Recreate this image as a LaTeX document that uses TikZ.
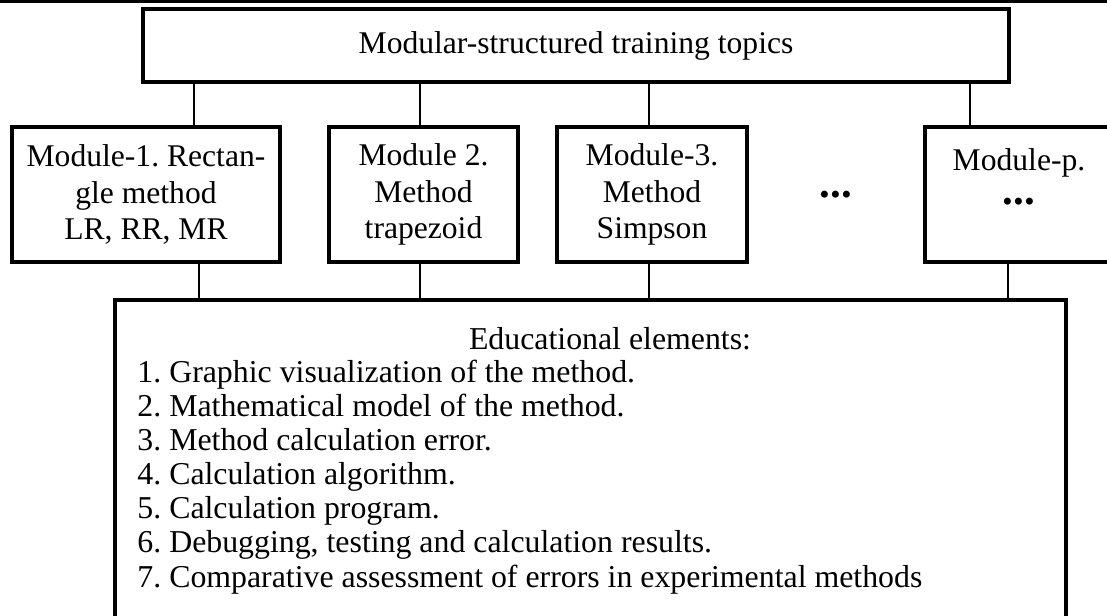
\documentclass[tikz,border=0pt]{standalone}
\usepackage{fontspec}
\setmainfont{Liberation Serif}
\frenchspacing
\usetikzlibrary{positioning}
\tikzset{
  topicbox/.style={
    rectangle,
    draw=black, line width=1.4pt,
    minimum width=383.6pt,
    minimum height=32.3pt,
    font=\fontsize{14}{16}\selectfont},
  modbox/.style={
    rectangle,
    draw=black, line width=1.4pt,
    minimum height=59.8pt,
    inner sep=0pt,
    align=center,
    font=\fontsize{14}{16.2}\selectfont},
  elembox/.style={
    rectangle,
    draw=black, line width=1.4pt,
    minimum width=421.3pt,
    minimum height=155pt},
  elemtext/.style={inner sep=0pt, font=\fontsize{14.1}{15}\selectfont},
  dotstext/.style={inner sep=0pt, font=\fontsize{19}{16}\selectfont\bfseries},
  line/.style={draw, line width=1.3pt},
}
\newcommand{\moddots}{{\fontsize{19}{16}\selectfont\bfseries ...}}
\begin{document}
\begin{tikzpicture}[x=0.443pt, y=-0.443pt]
  \clip (0,0) rectangle (1107,616);
  \draw[line width=1.2pt] (0,1.3) -- (1107,1.3);
  % topics and modules
  \node (topics) [topicbox] at (576,45.5) {Modular-structured training topics};
  \node (mod1) [modbox, minimum width=118.7pt] at (146,194.5)
    {Module-1. Rectan-\\gle method\\LR, RR, MR};
  \node (mod2) [modbox, minimum width=83.7pt] at (423.5,194.5)
    {Module 2.\\Method\\trapezoid};
  \node (mod3) [modbox, minimum width=84.2pt] at (652,194.5)
    {Module-3.\\Method\\Simpson};
  \node (mdots) [dotstext, anchor=base] at (836,198) {...};
  \node (modp) [modbox, minimum width=83.3pt] at (1019,194.5)
    {Module-p.\\[-1pt]\moddots\\~};
  % educational elements
  \node (elem) [elembox] at (590.5,475) {};
  \node (etitle) [elemtext] at (610,339) {Educational elements:};
  \foreach \t [count=\i] in {Graphic visualization of the method.,
      Mathematical model of the method.,
      Method calculation error.,
      Calculation algorithm.,
      Calculation program.,
      {Debugging, testing and calculation results.},
      Comparative assessment of errors in experimental methods}
    \node (item\i) [elemtext, anchor=base west] at (137,349+34*\i) {\i. \t};
  % connectors
  \path[line] (topics.south -| 194,0) -- (mod1.north -| 194,0);
  \path[line] (topics.south -| 420,0) -- (mod2.north -| 420,0);
  \path[line] (topics.south -| 649,0) -- (mod3.north -| 649,0);
  \path[line] (topics.south -| 970,0) -- (modp.north -| 970,0);
  \path[line] (mod1.south -| 199,0) -- (elem.north -| 199,0);
  \path[line] (mod2.south -| 420,0) -- (elem.north -| 420,0);
  \path[line] (mod3.south -| 649,0) -- (elem.north -| 649,0);
  \path[line] (modp.south -| 1008,0) -- (elem.north -| 1008,0);
\end{tikzpicture}
\end{document}
